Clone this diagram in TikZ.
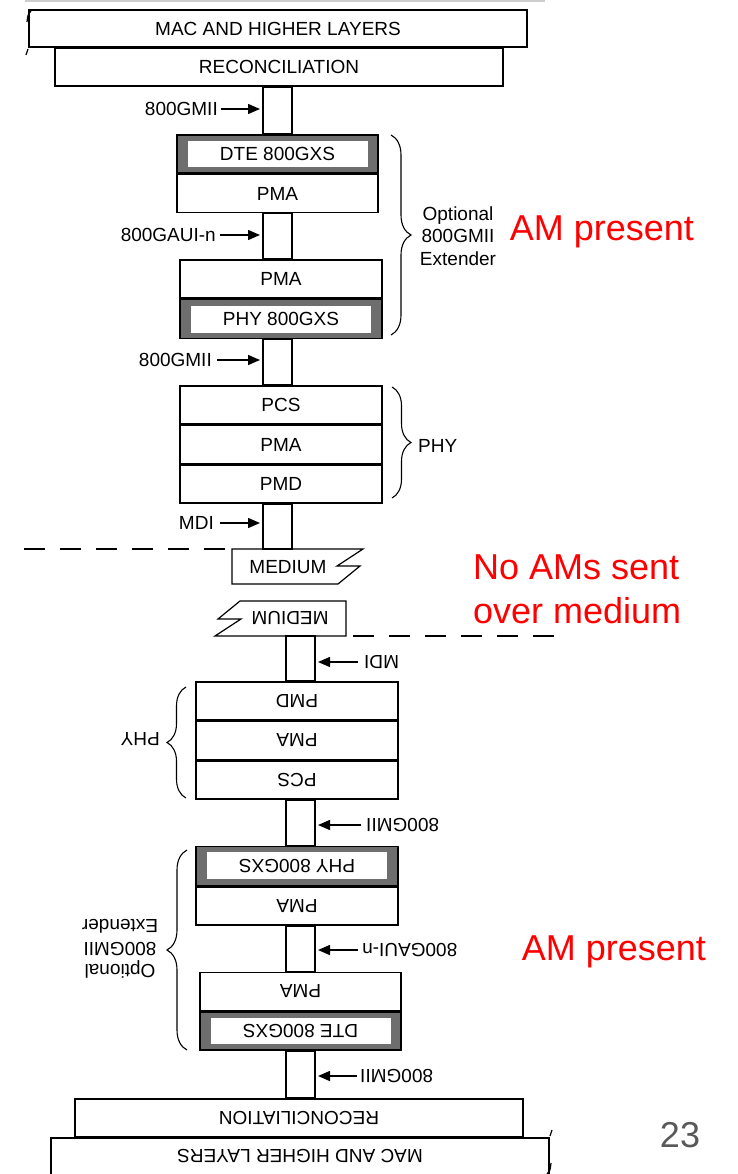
\documentclass[tikz,border=0pt]{standalone}
\usepackage{fontspec}
\setmainfont{Liberation Sans}
\usetikzlibrary{decorations.pathreplacing,arrows.meta,calc}
\definecolor{boxgray}{RGB}{110,110,110}
\definecolor{pagegray}{RGB}{205,205,205}
\definecolor{numgray}{RGB}{89,89,89}
\definecolor{amred}{RGB}{255,0,0}
\newcommand\fs{\fontsize{19}{22.5}\selectfont}
\newcommand\bigfs{\fontsize{36}{44}\selectfont}
\tikzset{
  layer/.style={draw, line width=1.7pt, fill=white, inner sep=0pt, font=\fs},
  gbox/.style={draw, line width=1.7pt, fill=boxgray, inner sep=0pt},
  ibox/.style={fill=white, inner sep=0pt, font=\fs},
  pipe/.style={draw, line width=1.7pt},
  lbl/.style={inner sep=0pt, font=\fs},
  arr/.style={line width=1.5pt, -{Triangle[length=12pt,width=10pt]}, shorten >=3pt},
  bracestyle/.style={line width=1.1pt, decorate, decoration={brace, amplitude=#1}},
  medline/.style={line width=1.2pt},
  dashline/.style={line width=1.2pt, dash pattern=on 21pt off 15pt},
  redtext/.style={inner sep=0pt, font=\bigfs, text=amred},
}
\newcommand\halfdiag[1]{%
  \coordinate (#1L) at (263,0);
  \coordinate (#1R) at (292,0);
  \coordinate (#1mtop) at (0,549);
  % layers
  \node[layer, minimum width=498pt, minimum height=37pt] (#1mac) at (278,28.5) {MAC AND HIGHER LAYERS};
  \node[layer, minimum width=448pt, minimum height=38pt, anchor=north] (#1rec) at (279,47) {RECONCILIATION};
  % extender, DTE side
  \node[gbox, minimum width=201pt, minimum height=38pt, anchor=north] (#1dte) at (277.5,134) {};
  \node[ibox, minimum width=180pt, minimum height=26pt] (#1dtet) at (#1dte) {DTE 800GXS};
  \node[layer, minimum width=201pt, minimum height=38pt, anchor=north] (#1pmaa) at (#1dte.south) {PMA};
  % extender, PHY side
  \node[layer, minimum width=202pt, minimum height=38pt, anchor=north] (#1pmab) at (281,259) {PMA};
  \node[gbox, minimum width=202pt, minimum height=39pt, anchor=north] (#1phx) at (#1pmab.south) {};
  \node[ibox, minimum width=180pt, minimum height=27pt] (#1phxt) at (#1phx) {PHY 800GXS};
  % PHY
  \node[layer, minimum width=202pt, minimum height=38pt, anchor=north] (#1pcs) at (281,385) {PCS};
  \node[layer, minimum width=202pt, minimum height=38pt, anchor=north] (#1pmac) at (#1pcs.south) {PMA};
  \node[layer, minimum width=202pt, minimum height=38pt, anchor=north] (#1pmd) at (#1pmac.south) {PMD};
  % pipes
  \draw[pipe] (#1L |- #1rec.south) rectangle (#1R |- #1dte.north);
  \draw[pipe] (#1L |- #1pmaa.south) rectangle (#1R |- #1pmab.north);
  \draw[pipe] (#1L |- #1phx.south) rectangle (#1R |- #1pcs.north);
  \draw[pipe] (#1L |- #1pmd.south) rectangle (#1R |- #1mtop);
  % interface labels
  \node[lbl, anchor=east] (#1ga) at (218,109) {800GMII};
  \draw[arr] ([xshift=3pt]#1ga.east) -- (#1L |- #1ga.east);
  \node[lbl, anchor=east] (#1gb) at (216,235) {800GAUI-n};
  \draw[arr] ([xshift=4pt]#1gb.east) -- (#1L |- #1gb.east);
  \node[lbl, anchor=east] (#1gc) at (212,360) {800GMII};
  \draw[arr] ([xshift=5pt]#1gc.east) -- (#1L |- #1gc.east);
  \node[lbl, anchor=east] (#1gd) at (214,523) {MDI};
  \draw[arr] ([xshift=6pt]#1gd.east) -- (#1L |- #1gd.east);
  % braces
  \draw[bracestyle=20pt] (391,135) -- (391,335);
  \node[lbl, align=center] (#1opt) at (458,236) {Optional\\800GMII\\Extender};
  \draw[bracestyle=19pt] (392,387) -- (392,498);
  \node[lbl, anchor=west] (#1phy) at (418,446) {PHY};
  % medium
  \draw[dashline] (24,549) -- (232,549);
  \draw[medline] (232,549) -- (363,549) -- (337,566) -- (360,566) -- (338,584) -- (232,584) -- cycle;
  \node[lbl] (#1med) at (288,567) {MEDIUM};
  % edge marks beside the top layer
  \draw[line width=1.2pt] (31,11) .. controls (28,14) .. (27,22);
  \draw[line width=1.2pt] (28,49) -- (26,55);
}
\begin{document}
\begin{tikzpicture}[x=1pt, y=-1pt]
  \useasboundingbox (0,0) rectangle (737,1174);
  \fill[white] (0,0) rectangle (737,1174);
  \draw[pagegray, line width=1.5pt] (25,1) -- (545,1);
  \begin{scope}
    \halfdiag{t}
  \end{scope}
  \begin{scope}[rotate around={180:(289,592.5)}, transform shape]
    \halfdiag{b}
  \end{scope}
  \node[redtext] (amtop) at (602,232) {AM present};
  \node[redtext, anchor=west, align=left] (noam) at (473,589) {No AMs sent\\over medium};
  \node[redtext] (ambot) at (614,952) {AM present};
  \node[inner sep=0pt, font=\bigfs, text=numgray] (pnum) at (680,1135) {23};
\end{tikzpicture}
\end{document}
